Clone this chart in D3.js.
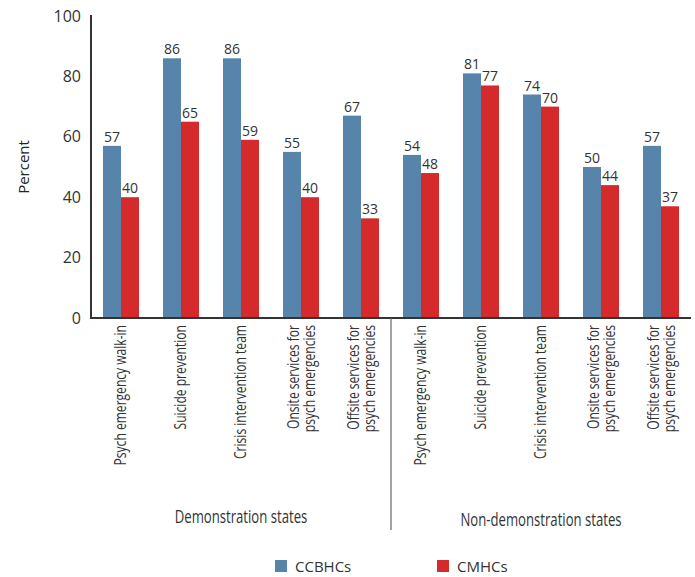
<!DOCTYPE html>
<html>
<head>
<meta charset="utf-8">
<script src="https://cdn.jsdelivr.net/npm/d3@7"></script>
<style>
  html, body { margin: 0; padding: 0; background: #fff; }
  svg { display: block; }
  .sans { font-family: "Open Sans", "Noto Sans", sans-serif; }
</style>
</head>
<body>
<svg id="chart" width="695" height="577"></svg>
<script>
// Service categories (each repeated for both state groups)
const services = [
  ["Psych emergency walk-in"],
  ["Suicide prevention"],
  ["Crisis intervention team"],
  ["Onsite services for", "psych emergencies"],
  ["Offsite services for", "psych emergencies"]
];
const groups = ["Demonstration states", "Non-demonstration states"];
const seriesNames = ["CCBHCs", "CMHCs"];
const seriesColors = ["#5784aa", "#d42a2b"];

// Percent offering each service, demonstration states then non-demonstration states
const ccbhcValues = [57, 86, 86, 55, 67, 54, 81, 74, 50, 57];
const cmhcValues = [40, 65, 59, 40, 33, 48, 77, 70, 44, 37];
const yTicks = [0, 20, 40, 60, 80, 100];

const svg = d3.select("#chart");
const plotLeft = 91, plotTop = 15, plotBottom = 318, plotWidth = 600;
const narrowCat = 0.71;   // horizontal squeeze for condensed category text
const narrowTitle = 0.73; // same for the group titles

const rows = [];
groups.forEach((g, gi) => {
  services.forEach((s, si) => {
    const i = gi * services.length + si;
    rows.push({ key: i, group: gi, label: s, values: [ccbhcValues[i], cmhcValues[i]] });
  });
});

const x = d3.scaleBand().domain(rows.map(d => d.key)).range([plotLeft, plotLeft + plotWidth]).paddingInner(0.4).paddingOuter(0.2);
const xs = d3.scaleBand().domain([0, 1]).range([0, x.bandwidth()]);
const y = d3.scaleLinear().domain([0, 100]).range([plotBottom, plotTop + 1]);

// Bars and value labels
const grp = svg.append("g").selectAll("g.grp").data(rows).join("g")
  .attr("transform", d => `translate(${x(d.key)},0)`);
grp.selectAll("rect").data(d => d.values.map((v, k) => ({ v, k }))).join("rect")
  .attr("x", d => xs(d.k)).attr("width", xs.bandwidth())
  .attr("y", d => y(d.v)).attr("height", d => plotBottom - y(d.v))
  .attr("fill", d => seriesColors[d.k]);
grp.selectAll("text.val").data(d => d.values.map((v, k) => ({ v, k }))).join("text")
  .attr("class", "val sans")
  .attr("x", d => xs(d.k) + xs.bandwidth() / 2)
  .attr("y", d => y(d.v) - 4)
  .attr("text-anchor", "middle").attr("font-size", 14).attr("fill", "#333")
  .text(d => d.v);

// Y axis
const ya = svg.append("g").attr("transform", `translate(${plotLeft},0)`)
  .call(d3.axisLeft(y).tickValues(yTicks).tickSize(0).tickPadding(10));
ya.select(".domain").remove();
ya.selectAll("text").attr("class", "sans").attr("font-family", null)
  .attr("font-size", 16).attr("fill", "#333");
svg.append("line").attr("x1", plotLeft).attr("x2", plotLeft).attr("y1", plotTop).attr("y2", plotBottom + 1)
  .attr("stroke", "#333").attr("stroke-width", 2);

// X axis baseline
svg.append("line").attr("x1", plotLeft).attr("x2", plotLeft + plotWidth).attr("y1", plotBottom).attr("y2", plotBottom)
  .attr("stroke", "#333").attr("stroke-width", 2);

// Separator between the two state groups
const sepX = x(5) - (x.step() - x.bandwidth()) / 2;
svg.append("line").attr("x1", sepX).attr("x2", sepX)
  .attr("y1", plotBottom).attr("y2", 530).attr("stroke", "#666").attr("stroke-width", 1.2);

// Category labels, rotated; baseline offsets from the band centre
const lineOffsets = { 1: [5], 2: [-2, 13.5] };
rows.forEach(d => {
  const cx = x(d.key) + x.bandwidth() / 2;
  const offs = lineOffsets[d.label.length];
  d.label.forEach((t, li) => {
    svg.append("text").attr("class", "sans")
      .attr("transform", `translate(${cx + offs[li]},${plotBottom + 7}) rotate(-90) scale(${narrowCat},1)`)
      .attr("text-anchor", "end").attr("font-size", 17).attr("fill", "#333")
      .text(t);
  });
});

// Group titles
const titleY = [523, 526];
groups.forEach((t, gi) => {
  const first = x(gi * 5), last = x(gi * 5 + 4) + x.bandwidth();
  svg.append("text").attr("class", "sans")
    .attr("transform", `translate(${(first + last) / 2},${titleY[gi]}) scale(${narrowTitle},1)`)
    .attr("text-anchor", "middle").attr("font-size", 18).attr("fill", "#333")
    .text(t);
});

// Y axis title
svg.append("text").attr("class", "sans")
  .attr("transform", "translate(29,167) rotate(-90)")
  .attr("text-anchor", "middle").attr("font-size", 15).attr("fill", "#222")
  .text("Percent");

// Legend
const legendX = [275, 437];
seriesNames.forEach((s, k) => {
  svg.append("rect").attr("x", legendX[k]).attr("y", 560).attr("width", 12).attr("height", 12)
    .attr("fill", seriesColors[k]);
  svg.append("text").attr("class", "sans").attr("x", legendX[k] + 20).attr("y", 571.5)
    .attr("font-size", 15).attr("fill", "#333").text(s);
});
</script>
</body>
</html>
